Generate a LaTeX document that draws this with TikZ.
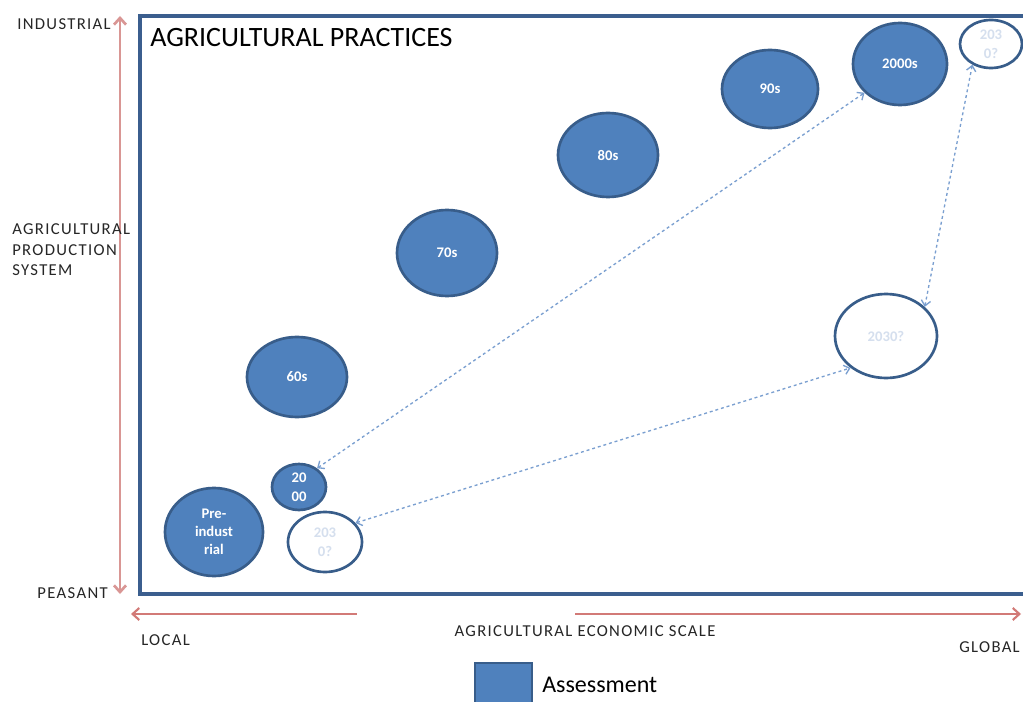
\documentclass[tikz,border=0pt]{standalone}
\usepackage{fontspec}
\setmainfont{Carlito}
\newfontfamily\axisfont[LetterSpace=8]{Carlito}
\usetikzlibrary{shapes.geometric,arrows.meta}
\definecolor{fillblue}{HTML}{4F81BD}
\definecolor{edgeblue}{HTML}{385D8A}
\definecolor{framecol}{HTML}{3B5E8E}
\definecolor{axisred}{HTML}{D99694}
\definecolor{axisred2}{HTML}{D27A77}
\definecolor{dotblue}{HTML}{7A9FD0}
\definecolor{ghost}{HTML}{D5DFEE}
\begin{document}
\begin{tikzpicture}[x=0.75pt,y=-0.75pt,
 blob/.style={ellipse, draw=edgeblue, line width=2pt, inner sep=0pt, align=center},
 filled/.style={blob, fill=fillblue, text=white, font=\bfseries\fontsize{11}{14.5}\selectfont},
 hollow/.style={blob, fill=white, text=ghost, font=\bfseries\fontsize{11}{14.5}\selectfont},
 sz/.style 2 args={minimum width=#1*1.5pt, minimum height=#2*1.5pt},
 axislabel/.style={font=\axisfont\fontsize{12.5}{15.4}\selectfont, text=black!85, inner sep=0pt},
 link/.style={dotblue, line width=1pt, dash pattern=on 2.2pt off 2.2pt,
   {Straight Barb[length=4pt,width=7pt]}-{Straight Barb[length=4pt,width=7pt]}},
 axisarrow/.style={line width=2pt, {Straight Barb[length=5pt,width=9pt]}-{Straight Barb[length=5pt,width=9pt]}},
]
\useasboundingbox (0,0) rectangle (1023,702);
\clip (0,0) rectangle (1023,702);
\fill[white] (0,0) rectangle (1023,702);

% frame
\draw[framecol, line width=2.3pt] (140,16) rectangle (1045,594);

% axes
\coordinate (vtop) at (120,16);
\coordinate (vbot) at (120,594);
\draw[axisred, axisarrow] (vtop) -- (vbot);
\coordinate (hl1) at (131,614);
\coordinate (hl2) at (357,614);
\coordinate (hr1) at (575,614);
\coordinate (hr2) at (1021,614);
\draw[axisred2, line width=1.6pt, {Straight Barb[length=5pt,width=9pt]}-] (hl1) -- (hl2);
\draw[axisred2, line width=1.6pt, -{Straight Barb[length=5pt,width=9pt]}] (hr1) -- (hr2);

% labels
\node[axislabel, anchor=east] (lind) at (111,24) {INDUSTRIAL};
\node[axislabel, anchor=west, align=left] (lsys) at (12,250) {AGRICULTURAL\\PRODUCTION\\SYSTEM};
\node[axislabel, anchor=east] (lpea) at (108,593) {PEASANT};
\node[axislabel, anchor=west] (lloc) at (141,640) {LOCAL};
\node[axislabel] (lscale) at (585,631) {AGRICULTURAL ECONOMIC SCALE};
\node[axislabel, anchor=east] (lglob) at (1020,647) {GLOBAL};

\node[anchor=west, inner sep=0pt, font=\fontsize{21}{25}\selectfont] (title) at (150,38) {AGRICULTURAL PRACTICES};

% ellipses
\node[filled, sz={49}{44}, font=\bfseries\fontsize{11}{13.5}\selectfont] (pre) at (214,532) {Pre-\\indust\\rial};
\node[filled, sz={27}{23}] (s2000) at (299,487) {20\\00};
\node[hollow, sz={37}{30}] (b2030) at (325,542) {203\\0?};
\node[filled, sz={50}{40}] (c60) at (297,377) {60s};
\node[filled, sz={50}{43}] (c70) at (447,253) {70s};
\node[filled, sz={50}{42}] (c80) at (608,155) {80s};
\node[filled, sz={48}{39}] (c90) at (770,89) {90s};
\node[filled, sz={47}{41}] (c2000s) at (900,64) {2000s};
\node[hollow, sz={31}{24}] (t2030) at (991,44) {203\\0?};
\node[hollow, sz={51}{42}] (m2030) at (886,336) {2030?};

% links
\draw[link] (s2000.46) -- (c2000s.219);
\draw[link] (b2030.32) -- (m2030.222);
\draw[link] (t2030.228) -- (m2030.37);

% legend
\node[draw=edgeblue, fill=fillblue, line width=1.5pt, minimum width=57*0.75pt, minimum height=42*0.75pt, inner sep=0pt] (legbox) at (503.5,684) {};
\node[anchor=west, inner sep=0pt, font=\fontsize{18}{21}\selectfont] (legtext) at (542,685) {Assessment};
\end{tikzpicture}
\end{document}
